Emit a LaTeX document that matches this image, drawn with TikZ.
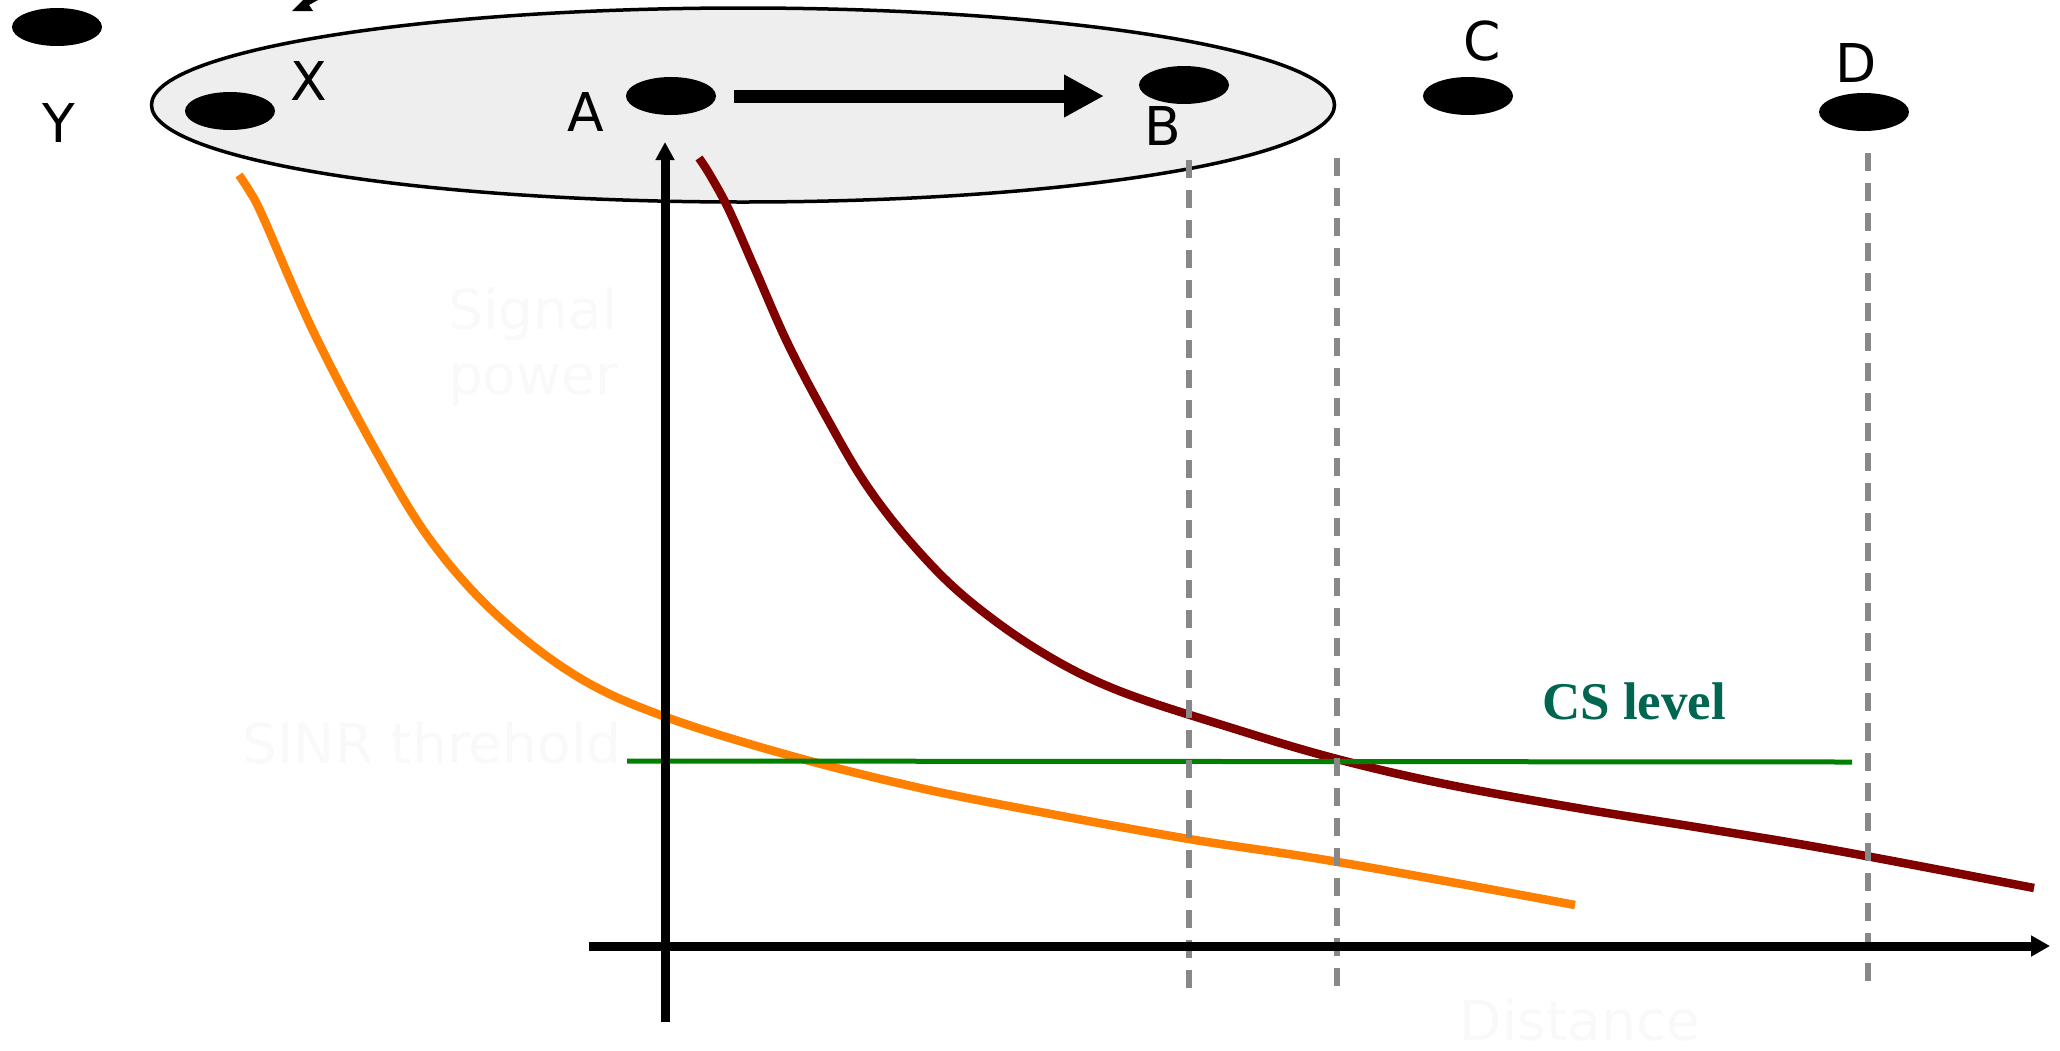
\documentclass[tikz,border=0pt]{standalone}
\usepackage{fontspec}
\setmainfont{DejaVu Sans}
\newfontfamily\csserif{Liberation Serif}
\usetikzlibrary{shapes.geometric,arrows.meta}
\definecolor{ellfill}{HTML}{EEEEEE}
\definecolor{curveorange}{HTML}{FF8000}
\definecolor{curvered}{HTML}{800000}
\definecolor{cslinegreen}{HTML}{008000}
\definecolor{cstext}{HTML}{006650}
\definecolor{dashgray}{HTML}{888888}
\definecolor{faint}{HTML}{F9F9F9}
\tikzset{
  blob/.style={ellipse, fill=black, draw=none, minimum width=90pt, minimum height=38pt, inner sep=0pt},
  lbl/.style={anchor=base, inner sep=0pt, font=\fontsize{53.5}{64}\selectfont},
  faintlbl/.style={inner sep=0pt, text=faint, font=\fontsize{55}{65}\selectfont},
  axisline/.style={line width=9pt, draw=black},
  vdash/.style={draw=dashgray, line width=6pt, dash pattern=on 18pt off 12pt},
  curveline/.style={line width=8.5pt, line join=round},
}
\begin{document}
\begin{tikzpicture}[x=1pt,y=-1pt]
\useasboundingbox (0,0) rectangle (2060,1050);
% big shaded ellipse
\node[ellipse, draw=black, fill=ellfill, line width=3.5pt, minimum width=1183pt, minimum height=194pt, inner sep=0pt] (cell) at (743,105) {};
% partial arrowhead at top
\fill[black] (292,11) -- (313,11) -- (309,5) -- (318,0) -- (303,0) -- cycle;
% faint labels
\node[faintlbl, align=center, anchor=north] (sigpow) at (533,288) {Signal\\power};
\node[faintlbl, anchor=base] (sinr) at (432,763) {SINR threhold};
\node[faintlbl, anchor=base] (dist) at (1580,1040) {Distance};
% stations
\node[blob] (nY) at (57,27) {};
\node[blob] (nX) at (230,111) {};
\node[blob] (nA) at (671,96) {};
\node[blob] (nB) at (1184,85) {};
\node[blob] (nC) at (1468,96) {};
\node[blob] (nD) at (1864,112) {};
\node[lbl] (lY) at (59,142) {Y};
\node[lbl] (lX) at (309,100) {X};
\node[lbl] (lA) at (586,131) {A};
\node[lbl] (lB) at (1163,145) {B};
\node[lbl] (lC) at (1482,60) {C};
\node[lbl] (lD) at (1856,82) {D};
% transmission arrow A -> B
\coordinate (abS) at (734,96);
\coordinate (abE) at (1104,96);
\draw[line width=13pt, -{Triangle[length=40pt,width=40pt]}] (abS) -- (abE);
% curves
\draw[curveline, curveorange] plot[smooth, tension=0.6] coordinates {(239,175) (250,192) (263,217) (315,335) (381,460) (434,545) (499,617) (578,677) (663,716) (788,755) (920,788) (1051,814) (1189,839) (1314,858) (1445,881) (1575,905)};
\draw[curveline, curvered] plot[smooth, tension=0.6] coordinates {(699,158) (710,175) (729,210) (755,269) (788,344) (828,420) (867,486) (913,545) (966,598) (1038,650) (1117,690) (1235,729) (1337,759) (1445,784) (1577,808) (1708,829) (1839,851) (2034,888)};
% CS level line
\coordinate (csL) at (627,761);
\coordinate (csR) at (1852,762);
\draw[cslinegreen, line width=5pt] (csL) -- (csR);
\node[anchor=base, inner sep=0pt, text=cstext, font=\csserif\bfseries\fontsize{53}{60}\selectfont] (cslbl) at (1634,719) {CS level};
% dashed verticals
\coordinate (d1T) at (1189,160); \coordinate (d1B) at (1189,996);
\coordinate (d2T) at (1337,158); \coordinate (d2B) at (1337,993);
\coordinate (d3T) at (1868,153); \coordinate (d3B) at (1868,989);
\draw[vdash] (d1T) -- (d1B);
\draw[vdash] (d2T) -- (d2B);
\draw[vdash] (d3T) -- (d3B);
% axes
\coordinate (vaxB) at (665,1022);
\coordinate (vaxT) at (665,142);
\coordinate (haxL) at (589,946);
\coordinate (haxR) at (2050,946);
\draw[axisline, -{Triangle[length=18pt,width=18pt]}] (vaxB) -- (vaxT);
\draw[axisline, -{Triangle[length=19pt,width=20pt]}] (haxL) -- (haxR);
\end{tikzpicture}
\end{document}
